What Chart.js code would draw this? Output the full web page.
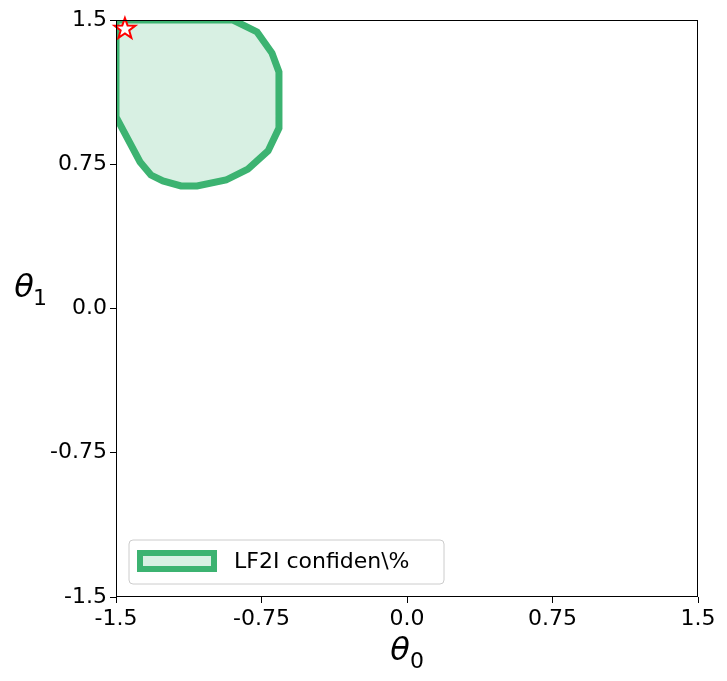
<!DOCTYPE html>
<html lang="en">
<head>
  <meta charset="UTF-8" />
  <title>LF2I confidence set</title>
  <script src="https://cdn.jsdelivr.net/npm/chart.js"></script>
  <style>
    body { margin: 0; padding: 0; background: #fff; }
    #wrap { width: 727px; height: 681px; }
  </style>
</head>
<body>
  <div id="wrap"><canvas id="chart" width="727" height="681"></canvas></div>
  <script>
    const regionX = [-1.5, -0.897, -0.773, -0.696, -0.66, -0.66, -0.716, -0.82, -0.933, -1.082, -1.165, -1.258, -1.32, -1.376, -1.5, -1.5];
    const regionY = [1.5, 1.5, 1.438, 1.328, 1.23, 0.938, 0.819, 0.725, 0.668, 0.637, 0.637, 0.663, 0.694, 0.762, 0.996, 1.5];
    const trueX = [-1.454];
    const trueY = [1.453];
    const tickVals = [-1.5, -0.75, 0, 0.75, 1.5];
    const tickText = ['-1.5', '-0.75', '0.0', '0.75', '1.5'];
    const legendLabel = 'LF2I confiden\\%';
    const green = '#3cb371';

    const pts = regionX.map((x, i) => ({ x: x, y: regionY[i] }));

    function starPath(ctx, cx, cy, R, r) {
      ctx.beginPath();
      for (let i = 0; i < 10; i++) {
        const a = -Math.PI / 2 + i * Math.PI / 5;
        const rad = i % 2 ? r : R;
        ctx.lineTo(cx + rad * Math.cos(a), cy + rad * Math.sin(a));
      }
      ctx.closePath();
    }

    const extras = {
      id: 'extras',
      beforeDatasetsDraw(chart) {
        // fill the region polygon through the scales
        const ctx = chart.ctx, xs = chart.scales.x, ys = chart.scales.y;
        ctx.save();
        ctx.beginPath();
        pts.forEach(p => ctx.lineTo(xs.getPixelForValue(p.x), ys.getPixelForValue(p.y)));
        ctx.closePath();
        ctx.fillStyle = 'rgba(60,179,113,0.2)';
        ctx.fill();
        ctx.restore();
      },
      afterDraw(chart) {
        const ctx = chart.ctx, a = chart.chartArea;
        const xs = chart.scales.x, ys = chart.scales.y;
        ctx.save();
        trueX.forEach((x, i) => {
          starPath(ctx, xs.getPixelForValue(x), ys.getPixelForValue(trueY[i]), 11, 4.5);
          ctx.fillStyle = '#fff';
          ctx.fill();
          ctx.strokeStyle = 'red';
          ctx.lineWidth = 2;
          ctx.stroke();
        });
        ctx.strokeStyle = '#000';
        ctx.lineWidth = 1;
        ctx.strokeRect(a.left + 0.5, a.top + 0.5, a.right - a.left - 1, a.bottom - a.top - 1);
        // legend
        ctx.fillStyle = '#fff';
        ctx.strokeStyle = '#ccc';
        ctx.beginPath();
        ctx.roundRect(129, 540, 315, 44, 4);
        ctx.fill();
        ctx.stroke();
        ctx.fillStyle = 'rgba(60,179,113,0.2)';
        ctx.fillRect(140, 553, 74, 16);
        ctx.strokeStyle = green;
        ctx.lineWidth = 6;
        ctx.strokeRect(140, 553, 74, 16);
        ctx.fillStyle = '#000';
        ctx.font = '22px "DejaVu Sans"';
        ctx.textBaseline = 'middle';
        ctx.fillText(legendLabel, 234, 562);
        // axis titles
        ctx.font = 'italic 32px "DejaVu Sans"';
        ctx.textAlign = 'center';
        ctx.fillText('θ', 400, 652);
        ctx.fillText('θ', 24, 289);
        ctx.font = '22px "DejaVu Sans"';
        ctx.textAlign = 'left';
        ctx.fillText('0', 410, 662);
        ctx.fillText('1', 33, 299);
        ctx.restore();
      }
    };

    const axisCommon = {
      type: 'linear', min: -1.5, max: 1.5,
      afterBuildTicks: s => { s.ticks = tickVals.map(v => ({ value: v })); },
      ticks: {
        color: '#000', font: { size: 22, family: 'DejaVu Sans' },
        callback: v => tickText[tickVals.indexOf(v)] ?? '',
        maxRotation: 0, autoSkip: false
      },
      grid: { display: true, drawOnChartArea: false, color: '#000', tickLength: 6 },
      border: { display: false }
    };

    new Chart(document.getElementById('chart'), {
      type: 'scatter',
      data: {
        datasets: [{
          data: pts,
          showLine: true,
          borderColor: green,
          borderWidth: 7,
          fill: false,
          pointRadius: 0,
          tension: 0
        }]
      },
      options: {
        responsive: false,
        animation: false,
        layout: { padding: { top: 20, right: 29, left: 0, bottom: 0 } },
        plugins: { legend: { display: false }, tooltip: { enabled: false } },
        scales: {
          x: Object.assign({}, axisCommon, { afterFit: s => { s.height = 84; } }),
          y: Object.assign({}, axisCommon, { afterFit: s => { s.width = 116; } })
        }
      },
      plugins: [extras]
    });
  </script>
</body>
</html>
